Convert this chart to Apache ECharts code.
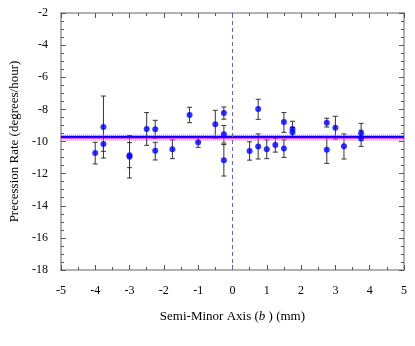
<!DOCTYPE html>
<html>
<head>
<meta charset="utf-8">
<script src="https://cdn.jsdelivr.net/npm/echarts@6/dist/echarts.min.js"></script>
<style>
  html, body { margin: 0; padding: 0; background: #fff; }
  #chart { width: 415px; height: 346px; }
</style>
</head>
<body>
<div id="chart"></div>
<script>
// measured points: semi-minor axis b (mm), precession rate (deg/hour), error bar low/high
const bValues = [-4.0, -3.76, -3.76, -3.0, -3.0, -2.5, -2.25, -2.25, -1.75, -1.25, -1.0, -0.5,
    -0.25, -0.25, -0.25, 0.5, 0.75, 0.75, 1.0, 1.25, 1.5, 1.5, 1.75, 1.75, 2.75, 2.75, 3.0, 3.25, 3.75, 3.75];
const rates = [-10.72, -9.1, -10.16, -10.85, -10.95, -9.22, -9.24, -10.57, -10.49, -8.35, -10.05, -8.93,
    -8.23, -9.55, -11.17, -10.59, -7.98, -10.31, -10.49, -10.22, -8.79, -10.43, -9.22, -9.43, -8.83, -10.51, -9.14, -10.3, -9.49, -9.8];
const errLow = [-11.4, -11.03, -10.61, -11.63, -12.27, -10.24, -9.8, -11.15, -11.07, -8.83, -10.36, -9.8,
    -8.61, -10.1, -12.15, -11.16, -8.62, -11.09, -11.07, -10.66, -9.43, -10.99, -9.7, -9.74, -9.1, -11.36, -9.85, -11.09, -9.95, -10.3];
const errHigh = [-10.05, -7.17, -9.71, -10.07, -9.63, -8.2, -8.68, -10.05, -9.9, -7.87, -9.7, -8.06,
    -7.85, -9.0, -10.19, -10.02, -7.37, -9.53, -9.9, -9.8, -8.2, -9.9, -8.74, -9.13, -8.55, -9.7, -8.43, -9.53, -8.87, -9.3];

const meanRate = -9.7;
const fitRate = -9.76;
const bandUpper = -9.6;
const bandLower = -9.92;

const xTicks = ['-5', '-4', '-3', '-2', '-1', '0', '1', '2', '3', '4', '5'];
const yTicks = ['-18', '-16', '-14', '-12', '-10', '-8', '-6', '-4', '-2'];

const serif = 'Liberation Serif';

let points = bValues.map(function (b, i) { return [b, rates[i]]; });
let bars = bValues.map(function (b, i) { return [b, errLow[i], errHigh[i]]; });

function hLine(y) {
    return [[Number(xTicks[0]), y], [Number(xTicks[xTicks.length - 1]), y]];
}

function renderErrorBar(params, api) {
    let x = api.value(0);
    let lo = api.coord([x, api.value(1)]);
    let hi = api.coord([x, api.value(2)]);
    let cap = 2.5;
    let style = { stroke: '#333', lineWidth: 1 };
    return {
        type: 'group',
        children: [
            { type: 'line', shape: { x1: lo[0], y1: lo[1], x2: hi[0], y2: hi[1] }, style: style },
            { type: 'line', shape: { x1: lo[0] - cap, y1: lo[1], x2: lo[0] + cap, y2: lo[1] }, style: style },
            { type: 'line', shape: { x1: hi[0] - cap, y1: hi[1], x2: hi[0] + cap, y2: hi[1] }, style: style }
        ]
    };
}

let frameLine = { show: true, onZero: false, lineStyle: { color: '#999', width: 1.5 } };
let frameTick = { show: true, inside: true, length: 5, lineStyle: { color: '#555' } };

let chart = echarts.init(document.getElementById('chart'));
chart.setOption({
    animation: false,
    backgroundColor: '#fff',
    grid: { left: 58, right: 11, top: 13, bottom: 76 },
    xAxis: [
        {
            type: 'value', min: -5, max: 5, interval: 1, position: 'bottom',
            axisLine: frameLine, axisTick: frameTick, splitLine: { show: false },
            minorTick: { show: true, splitNumber: 2, length: 3, lineStyle: { color: '#555' } },
            axisLabel: {
                margin: 15, color: '#000', fontFamily: serif, fontSize: 12,
                formatter: function (v) { return xTicks[xTicks.indexOf(String(v))] || String(v); }
            },
            name: '{n|Semi-Minor Axis (}{i|b}{n| ) (mm)}',
            nameLocation: 'middle', nameGap: 40,
            nameTextStyle: {
                rich: {
                    n: { fontFamily: serif, fontSize: 13, color: '#000' },
                    i: { fontFamily: serif, fontSize: 13, color: '#000', fontStyle: 'italic' }
                }
            }
        },
        {
            type: 'value', min: -5, max: 5, interval: 1, position: 'top',
            axisLine: frameLine, axisTick: frameTick,
            minorTick: { show: true, splitNumber: 2, length: 3, lineStyle: { color: '#555' } },
            axisLabel: { show: false }, splitLine: { show: false }
        }
    ],
    yAxis: [
        {
            type: 'value', min: -18, max: -2, interval: 2, position: 'left',
            axisLine: frameLine, axisTick: frameTick,
            minorTick: { show: true, splitNumber: 4, length: 3, lineStyle: { color: '#555' } },
            splitLine: { show: false },
            axisLabel: {
                margin: 13, color: '#000', fontFamily: serif, fontSize: 12,
                formatter: function (v) { return yTicks[yTicks.indexOf(String(v))] || String(v); }
            },
            name: 'Precession Rate (degrees/hour)',
            nameLocation: 'middle', nameGap: 33,
            nameTextStyle: { fontFamily: serif, fontSize: 13, color: '#000' }
        },
        {
            type: 'value', min: -18, max: -2, interval: 2, position: 'right',
            axisLine: frameLine, axisTick: frameTick,
            minorTick: { show: true, splitNumber: 4, length: 3, lineStyle: { color: '#555' } },
            axisLabel: { show: false }, splitLine: { show: false }
        }
    ],
    series: [
        {
            type: 'line', data: hLine(bandUpper), symbol: 'none', silent: true,
            lineStyle: { color: '#cc77ff', width: 1, type: 'dotted' },
            markLine: {
                silent: true, symbol: 'none', label: { show: false },
                lineStyle: { color: '#6666aa', width: 1, type: [4, 3] },
                data: [{ xAxis: 0 }]
            }
        },
        {
            type: 'line', data: hLine(bandLower), symbol: 'none', silent: true,
            lineStyle: { color: '#ff66ff', width: 1, type: 'dotted' }
        },
        {
            type: 'line', data: hLine(fitRate), symbol: 'none', silent: true,
            lineStyle: { color: '#ff00ff', width: 2 }
        },
        {
            type: 'line', data: hLine(meanRate), symbol: 'none', silent: true,
            lineStyle: { color: '#0000ff', width: 2 }
        },
        {
            type: 'custom', data: bars, renderItem: renderErrorBar,
            encode: { x: 0, y: [1, 2] }, z: 3
        },
        {
            type: 'scatter', data: points, symbol: 'circle', symbolSize: 6,
            itemStyle: { color: '#0000ff' }, z: 4
        }
    ]
});
</script>
</body>
</html>
